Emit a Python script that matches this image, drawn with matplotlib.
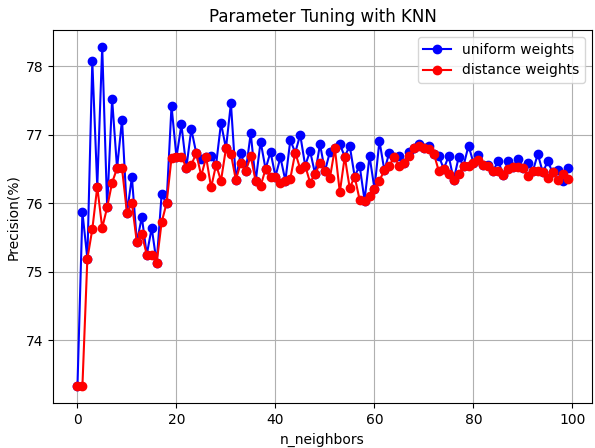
import matplotlib
matplotlib.use("Agg")
import matplotlib.pyplot as plt

n_neighbors = list(range(100))

uniform_weights = [
    73.33, 75.87, 75.19, 78.07, 76.24, 78.28, 75.94, 77.52, 76.51, 77.22,
    75.86, 76.38, 75.43, 75.80, 75.25, 75.64, 75.13, 76.13, 76.00, 77.42,
    76.67, 77.15, 76.52, 77.08, 76.73, 76.64, 76.67, 76.69, 76.56, 77.17,
    76.80, 77.46, 76.34, 76.74, 76.47, 77.02, 76.32, 76.90, 76.50, 76.75,
    76.39, 76.67, 76.33, 76.92, 76.74, 77.00, 76.55, 76.76, 76.43, 76.86,
    76.47, 76.75, 76.80, 76.86, 76.68, 76.84, 76.39, 76.55, 76.04, 76.69,
    76.21, 76.91, 76.48, 76.74, 76.67, 76.69, 76.59, 76.75, 76.81, 76.86,
    76.81, 76.84, 76.72, 76.69, 76.50, 76.69, 76.34, 76.67, 76.55, 76.84,
    76.59, 76.70, 76.56, 76.56, 76.47, 76.62, 76.41, 76.61, 76.53, 76.65,
    76.52, 76.58, 76.47, 76.72, 76.45, 76.61, 76.45, 76.48, 76.33, 76.51,
]

distance_weights = [
    73.33, 73.33, 75.19, 75.62, 76.24, 75.64, 75.94, 76.30, 76.51, 76.51,
    75.86, 76.00, 75.43, 75.55, 75.25, 75.25, 75.13, 75.72, 76.00, 76.66,
    76.67, 76.68, 76.52, 76.56, 76.73, 76.40, 76.67, 76.23, 76.56, 76.33,
    76.80, 76.72, 76.34, 76.59, 76.47, 76.69, 76.32, 76.25, 76.50, 76.38,
    76.39, 76.30, 76.33, 76.36, 76.74, 76.50, 76.55, 76.30, 76.43, 76.58,
    76.47, 76.37, 76.80, 76.16, 76.68, 76.22, 76.39, 76.05, 76.04, 76.10,
    76.21, 76.33, 76.48, 76.55, 76.67, 76.55, 76.59, 76.69, 76.81, 76.84,
    76.81, 76.79, 76.72, 76.47, 76.50, 76.42, 76.34, 76.42, 76.55, 76.55,
    76.59, 76.63, 76.56, 76.55, 76.47, 76.47, 76.41, 76.50, 76.53, 76.53,
    76.52, 76.40, 76.47, 76.47, 76.45, 76.37, 76.45, 76.34, 76.43, 76.35,
]

fig, ax = plt.subplots(figsize=(5.95, 4.48), dpi=100)
fig.subplots_adjust(left=0.089, right=0.995, top=0.933, bottom=0.100)
ax.plot(n_neighbors, uniform_weights, "o-", color="blue", label="uniform weights")
ax.plot(n_neighbors, distance_weights, "o-", color="red", label="distance weights")
ax.set_title("Parameter Tuning with KNN")
ax.set_xlabel("n_neighbors")
ax.set_ylabel("Precision(%)")
ax.grid(True)
ax.legend(loc="upper right")
fig.savefig("out.png", dpi=100)
